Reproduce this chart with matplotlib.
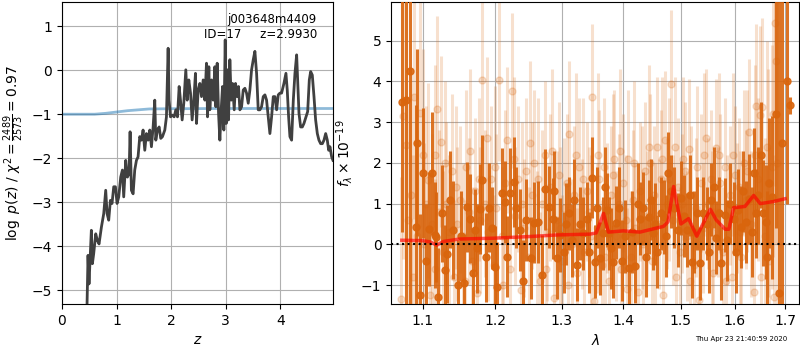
import numpy as np
import matplotlib
matplotlib.use("Agg")
import matplotlib.pyplot as plt

# ---- p(z) (painel esquerdo) ----
z_grid = [0.455, 0.459, 0.477, 0.495, 0.520, 0.538, 0.557, 0.581, 0.618, 0.648, 0.679, 0.722,
          0.765, 0.801, 0.826, 0.856, 0.887, 0.917, 0.948, 0.979, 1.009, 1.040, 1.076, 1.107,
          1.131, 1.168, 1.199, 1.229, 1.248, 1.272, 1.303, 1.333, 1.364, 1.394, 1.425, 1.456,
          1.486, 1.517, 1.547, 1.578, 1.609, 1.639, 1.670, 1.700, 1.719, 1.749, 1.780, 1.810,
          1.841, 1.884, 1.914, 1.945, 1.963, 1.988, 2.024, 2.055, 2.086, 2.116, 2.147, 2.171,
          2.202, 2.232, 2.269, 2.294, 2.324, 2.355, 2.385, 2.416, 2.446, 2.465, 2.495, 2.526,
          2.557, 2.587, 2.618, 2.648, 2.667, 2.691, 2.709, 2.740, 2.771, 2.801, 2.820, 2.844,
          2.869, 2.893, 2.917, 2.942, 2.966, 2.991, 3.009, 3.034, 3.052, 3.076, 3.101, 3.125,
          3.156, 3.180, 3.211, 3.235, 3.260, 3.291, 3.321, 3.352, 3.382, 3.413, 3.443, 3.474,
          3.505, 3.535, 3.566, 3.596, 3.627, 3.657, 3.688, 3.719, 3.749, 3.780, 3.810, 3.841,
          3.872, 3.902, 3.933, 3.963, 3.994, 4.024, 4.067, 4.104, 4.128, 4.153, 4.177, 4.208,
          4.239, 4.269, 4.300, 4.318, 4.343, 4.373, 4.404, 4.434, 4.471, 4.502, 4.532, 4.557,
          4.587, 4.618, 4.648, 4.679, 4.709, 4.740, 4.771, 4.801, 4.832, 4.862, 4.887, 4.911,
          4.942, 4.966]
log_pz = [-5.60, -5.32, -4.21, -4.86, -4.17, -3.64, -4.40, -4.17, -3.72, -3.87, -3.95, -3.57,
          -3.26, -2.73, -3.26, -3.41, -2.96, -3.03, -2.65, -2.65, -3.03, -2.88, -2.43, -2.27,
          -2.88, -2.05, -2.43, -2.35, -1.40, -2.73, -2.81, -2.27, -2.05, -1.97, -1.51, -1.59,
          -1.36, -1.82, -1.44, -1.59, -1.36, -1.74, -1.29, -0.68, -1.59, -1.36, -1.29, -1.55,
          -1.51, -1.36, -1.06, 0.50, -0.68, -1.06, -1.02, -1.06, -0.90, -1.06, -0.37, -0.68,
          -1.13, -0.75, 0.01, -0.68, -0.22, -0.52, -1.13, -0.68, -0.07, -1.21, -0.45, -0.30,
          -0.60, -0.22, -0.68, 0.16, -1.06, 0.08, -0.90, -0.22, -0.68, 0.08, -0.83, 0.16,
          -0.98, -1.59, -0.90, -0.37, -1.36, 0.69, -1.21, 0.01, -1.13, 0.24, -0.68, -0.30,
          -0.90, -0.30, -0.60, -0.37, -0.90, -0.83, -0.45, -0.41, -0.52, -0.75, -0.45, 0.01,
          0.24, 0.43, -0.07, -0.90, -0.90, -0.83, -0.60, -0.56, -0.68, -1.06, -1.44, -1.06,
          -0.60, -0.60, -0.90, -0.56, -0.52, -0.52, -0.30, -0.07, -0.45, -1.06, -1.51, -1.59,
          -0.68, -0.07, 0.35, -0.22, -0.98, -1.29, -1.29, -1.21, -1.06, -0.94, -0.22, -0.03,
          -0.11, -0.60, -1.13, -1.44, -1.59, -1.67, -1.67, -1.59, -1.44, -1.59, -1.82, -1.74,
          -1.97, -2.05]

# prior (linha azul)
z_prior = [0.0, 0.3, 0.6, 0.8, 1.0, 1.2, 1.4, 1.6, 2.0, 3.0, 4.0, 5.0]
log_prior = [-1.0, -1.0, -1.0, -0.98, -0.95, -0.92, -0.90, -0.88, -0.875, -0.87, -0.87, -0.87]

# ---- espectro (painel direito) ----
# pontos escuros
wl_dark = [1.073, 1.079, 1.083, 1.091, 1.093, 1.097, 1.101, 1.108, 1.112, 1.116, 1.118, 1.121,
           1.126, 1.130, 1.133, 1.141, 1.148, 1.156, 1.161, 1.165, 1.171, 1.174, 1.178, 1.182,
           1.187, 1.192, 1.200, 1.203, 1.210, 1.214, 1.222, 1.227, 1.236, 1.253, 1.258, 1.264,
           1.269, 1.275, 1.280, 1.286, 1.293, 1.297, 1.303, 1.311, 1.317, 1.324, 1.329, 1.334,
           1.340, 1.348, 1.353, 1.361, 1.366, 1.373, 1.376, 1.383, 1.387, 1.403, 1.410, 1.420,
           1.428, 1.434, 1.443, 1.450, 1.458, 1.464, 1.470, 1.477, 1.483, 1.494, 1.500, 1.511,
           1.520, 1.529, 1.535, 1.541, 1.547, 1.556, 1.565, 1.571, 1.574, 1.581, 1.598, 1.606,
           1.613, 1.622, 1.628, 1.638, 1.641, 1.651, 1.655, 1.661, 1.667, 1.673, 1.681, 1.687,
           1.693, 1.704, 1.710,
           1.105, 1.137, 1.152, 1.169, 1.196, 1.218, 1.231, 1.241, 1.246, 1.288, 1.307, 1.320,
           1.344, 1.357, 1.369, 1.379, 1.392, 1.398, 1.415, 1.424, 1.438, 1.447, 1.454, 1.474,
           1.488, 1.505, 1.516, 1.524, 1.551, 1.561, 1.586, 1.592, 1.602, 1.617, 1.633, 1.646,
           1.664]
f_dark = [3.50, 3.55, 4.26, 0.43, 2.50, -1.25, 1.76, 0.37, 1.74, 0.23, 0.18, -1.30,
          0.76, -0.63, -0.24, 0.35, -1.00, -0.95, 0.91, 0.63, 0.35, -0.10, 0.87, 1.58,
          -0.32, 0.90, -0.55, -1.04, 1.26, 1.04, 1.26, 1.53, 0.35, -0.34, 0.53, 0.55,
          -0.76, 1.35, 0.92, 0.63, -0.34, 0.23, -0.20, 0.76, 0.10, -0.50, 0.51, 0.27,
          0.63, 1.64, -0.43, -0.34, 0.27, 0.84, 0.27, -0.43, 0.53, 0.20, -0.58, -0.54,
          0.63, 0.88, 0.67, 0.27, -0.18, 0.76, 0.67, 1.76, 1.30, 0.35, 1.14, 0.35,
          -0.43, 0.76, -0.47, 0.76, 0.51, 1.10, 0.16, 0.76, -0.47, 0.72, 0.63, 0.84,
          0.43, 0.55, 1.11, 1.76, 0.76, 2.19, 0.76, 0.55, 1.50, 1.16, 3.20, -1.20,
          2.50, 4.00, 3.41,
          -0.40, 1.10, 0.20, -0.70, 0.40, -0.30, 0.90, -0.90, 0.60, 1.30, 0.50, 1.10,
          -0.20, 0.90, 1.40, -0.10, 0.90, -0.40, 0.30, 1.00, -0.30, 1.10, 0.50, 0.20,
          0.90, 0.70, 1.20, 0.30, -0.20, 1.40, 0.10, 1.00, -0.20, 1.30, 0.30, 1.20,
          -0.30]
err_dark = [3.2, 6.0, 6.0, 3.0, 2.3, 2.0, 1.6, 1.4, 1.5, 1.3, 1.1, 1.2,
            1.2, 1.1, 1.2, 1.2, 1.1, 1.2, 1.1, 1.1, 1.0, 1.1, 1.1, 1.1,
            1.1, 1.1, 1.0, 1.1, 1.1, 1.0, 1.1, 1.1, 1.0, 1.0, 1.0, 1.0,
            1.0, 1.0, 1.0, 1.0, 1.0, 0.9, 1.0, 0.9, 0.9, 0.9, 0.9, 0.9,
            0.9, 1.0, 0.9, 0.9, 0.9, 0.9, 0.9, 0.9, 0.9, 0.9, 0.9, 0.9,
            0.9, 0.9, 0.9, 0.9, 0.9, 0.9, 0.9, 1.0, 0.9, 0.9, 0.9, 0.9,
            0.9, 0.9, 0.9, 0.9, 0.9, 0.9, 0.9, 0.9, 0.9, 0.9, 0.9, 1.0,
            1.0, 1.0, 1.1, 1.1, 1.1, 1.3, 1.3, 1.4, 1.6, 2.0, 2.8, 7.5,
            8.0, 3.0, 0.2,
            1.4, 1.2, 1.1, 1.1, 1.0, 1.0, 1.0, 1.0, 1.0, 1.0, 1.0, 1.0,
            1.0, 1.0, 1.0, 1.0, 1.0, 1.0, 1.0, 1.0, 1.0, 1.0, 1.0, 1.0,
            1.0, 1.0, 1.0, 1.0, 1.0, 1.0, 1.0, 1.0, 1.0, 1.0, 1.1, 1.2,
            1.6]

# pontos claros
wl_light = [1.072, 1.075, 1.078, 1.081, 1.085, 1.089, 1.093, 1.097, 1.100, 1.104, 1.107, 1.110,
            1.113, 1.116, 1.119, 1.122, 1.125, 1.128, 1.132, 1.136, 1.140, 1.143, 1.147, 1.151,
            1.155, 1.159, 1.163, 1.167, 1.171, 1.175, 1.179, 1.182, 1.186, 1.190, 1.194, 1.198,
            1.202, 1.206, 1.210, 1.214, 1.218, 1.222, 1.225, 1.229, 1.233, 1.238, 1.242, 1.246,
            1.250, 1.254, 1.258, 1.262, 1.266, 1.270, 1.274, 1.278, 1.282, 1.288, 1.292, 1.296,
            1.300, 1.304, 1.308, 1.312, 1.316, 1.320, 1.324, 1.328, 1.332, 1.336, 1.340, 1.344,
            1.348, 1.352, 1.356, 1.360, 1.364, 1.368, 1.372, 1.376, 1.380, 1.384, 1.388, 1.392,
            1.396, 1.400, 1.404, 1.408, 1.412, 1.416, 1.420, 1.425, 1.429, 1.433, 1.437, 1.441,
            1.445, 1.449, 1.453, 1.457, 1.461, 1.465, 1.468, 1.472, 1.476, 1.482, 1.486, 1.490,
            1.494, 1.498, 1.502, 1.507, 1.511, 1.515, 1.519, 1.524, 1.528, 1.533, 1.537, 1.541,
            1.546, 1.550, 1.555, 1.559, 1.564, 1.568, 1.573, 1.577, 1.582, 1.586, 1.591, 1.595,
            1.600, 1.604, 1.609, 1.613, 1.618, 1.622, 1.627, 1.632, 1.637, 1.641, 1.646, 1.650,
            1.654, 1.659, 1.664, 1.668, 1.673, 1.677, 1.679, 1.681, 1.684,
            1.087, 1.102, 1.117, 1.130, 1.145, 1.157, 1.165, 1.177, 1.188, 1.200, 1.212, 1.227,
            1.240, 1.252, 1.264, 1.276, 1.285, 1.298, 1.310, 1.322, 1.334, 1.346, 1.358, 1.370,
            1.382, 1.394, 1.406, 1.418, 1.431, 1.443, 1.455, 1.466, 1.479, 1.492, 1.504, 1.517,
            1.530, 1.543, 1.557, 1.570, 1.584, 1.597, 1.611, 1.624, 1.639, 1.652, 1.666, 1.675]
f_light = [-1.35, 3.14, 2.43, 0.60, 1.20, 3.61, 0.20, 3.22, 2.20, 1.00, 1.57, -1.25,
           0.50, 2.20, 3.32, 0.80, 2.52, -0.20, 1.00, 0.30, 1.80, -0.80, 0.50, 1.10,
           0.20, 1.90, 0.80, -0.40, 1.30, -1.20, 0.60, 4.04, 1.00, 0.30, 1.60, -0.50,
           0.90, 4.04, 0.20, 1.50, 2.56, -0.60, 3.77, 0.70, 1.60, -1.13, 0.40, 1.80,
           -0.30, 1.20, 2.00, 0.10, -0.90, 1.00, 2.20, 0.30, 1.40, -1.33, 0.60, 1.70,
           -0.40, 0.90, 1.50, 2.70, 0.00, 1.20, -0.70, 1.90, 0.50, -0.20, 1.30, 0.80,
           3.62, -1.40, 0.40, 1.60, -0.50, 1.90, 0.90, -0.90, 1.20, 2.10, 0.20, 1.00,
           -0.60, 1.50, 0.60, 2.10, -0.30, 1.10, 0.40, -1.16, 1.30, 0.00, 1.80, 0.70,
           2.00, -0.40, 1.20, 2.40, 0.50, 1.60, -1.25, 2.56, 1.00, 3.95, 0.60, 2.40,
           1.40, -0.20, 1.00, 1.80, 0.20, 2.35, 1.20, -0.50, 0.90, -1.37, 1.50, 0.40,
           2.60, 1.00, 1.60, -0.70, 2.36, 0.80, 1.50, -0.20, 1.90, 0.60, 1.20, -0.80,
           1.70, 0.90, 1.40, -0.30, 2.00, 1.10, 2.75, 0.50, -1.16, 3.40, 1.60, 3.17,
           3.37, 0.20, 2.40, -0.40, 1.90, -1.30, 5.43, 4.50, 2.00,
           -0.80, 0.00, -0.60, 2.00, 1.40, -0.90, 2.30, 1.60, 2.60, 1.90, -1.00, 2.10,
           1.00, 2.50, 1.60, -0.60, 2.30, 0.40, -1.00, 2.20, 1.60, 0.20, 2.20, -0.30,
           1.70, 2.30, -1.10, 2.00, 0.90, 2.40, 0.00, 2.10, 1.60, -0.80, 2.10, -0.90,
           1.90, 2.20, 0.30, 2.20, -0.90, 2.20, 0.30, 1.80, 2.20, -0.80, 1.50, 3.20]
err_light = [3.0, 3.5, 3.5, 3.0, 3.0, 3.0, 2.6, 2.8, 2.6, 2.4, 2.4, 2.2,
             2.2, 2.2, 2.3, 2.0, 2.1, 2.0, 2.0, 1.9, 1.9, 1.9, 1.9, 1.8,
             1.8, 1.9, 1.8, 1.8, 1.8, 1.8, 1.8, 2.0, 1.8, 1.7, 1.8, 1.7,
             1.8, 2.0, 1.7, 1.8, 1.8, 1.7, 1.9, 1.7, 1.8, 1.7, 1.7, 1.8,
             1.7, 1.8, 1.8, 1.7, 1.7, 1.8, 1.8, 1.7, 1.8, 1.7, 1.7, 1.8,
             1.6, 1.7, 1.7, 1.8, 1.6, 1.7, 1.6, 1.7, 1.6, 1.6, 1.7, 1.6,
             1.8, 1.6, 1.6, 1.7, 1.6, 1.7, 1.6, 1.6, 1.7, 1.7, 1.6, 1.7,
             1.6, 1.7, 1.6, 1.7, 1.6, 1.7, 1.6, 1.6, 1.7, 1.6, 1.7, 1.6,
             1.7, 1.6, 1.7, 1.7, 1.6, 1.7, 1.6, 1.7, 1.6, 1.8, 1.6, 1.7,
             1.7, 1.6, 1.7, 1.7, 1.6, 1.7, 1.7, 1.6, 1.7, 1.6, 1.7, 1.6,
             1.7, 1.6, 1.7, 1.6, 1.7, 1.6, 1.7, 1.6, 1.7, 1.6, 1.7, 1.6,
             1.7, 1.6, 1.7, 1.6, 1.8, 1.7, 1.8, 1.8, 1.8, 2.0, 2.0, 2.2,
             2.2, 2.4, 2.6, 2.8, 3.0, 3.5, 4.0, 4.5, 5.0,
             3.0, 2.5, 2.2, 2.0, 2.0, 2.0, 2.0, 2.0, 2.0, 2.0, 2.0, 2.0,
             2.0, 2.0, 2.0, 2.0, 2.0, 2.0, 2.0, 2.0, 2.0, 2.0, 2.0, 2.0,
             2.0, 2.0, 2.0, 2.0, 2.0, 2.0, 2.0, 2.0, 2.0, 2.0, 2.0, 2.0,
             2.0, 2.0, 2.0, 2.0, 2.0, 2.0, 2.0, 2.0, 2.2, 2.4, 2.8, 3.5]

# modelo (linha vermelha)
wl_model = [1.073, 1.100, 1.110, 1.119, 1.128, 1.150, 1.198, 1.250, 1.293, 1.345, 1.355,
            1.367, 1.375, 1.400, 1.428, 1.469, 1.477, 1.487, 1.500, 1.514, 1.529, 1.554,
            1.565, 1.582, 1.589, 1.598, 1.620, 1.637, 1.650, 1.676, 1.700]
f_model = [0.10, 0.09, 0.06, -0.02, 0.07, 0.13, 0.15, 0.19, 0.23, 0.25, 0.28,
           0.76, 0.30, 0.33, 0.30, 0.44, 0.55, 1.42, 0.50, 0.63, 0.20, 0.86,
           0.60, 0.37, 0.37, 0.90, 0.93, 1.20, 1.00, 1.05, 1.12]

cor_laranja = "#d9650d"

fig = plt.figure(figsize=(8, 3.5), dpi=100)

# Painel esquerdo: log p(z)
ax1 = fig.add_axes([0.0775, 0.131, 0.339, 0.863])
ax1.plot(z_prior, log_prior, color="#1f77b4", alpha=0.5, lw=2, zorder=2)
ax1.plot(z_grid, log_pz, color="0.25", lw=2, zorder=3)
ax1.set_xlim(0, 4.97)
ax1.set_ylim(-5.32, 1.55)
ax1.set_xticks([0, 1, 2, 3, 4])
ax1.set_yticks([-5, -4, -3, -2, -1, 0, 1])
ax1.grid(True)
ax1.set_axisbelow(True)
ax1.set_xlabel(r"$z$")
ax1.set_ylabel(r"$\log\ p(z)$ / $\chi^2=\frac{2489}{2573}=0.97$")
ax1.text(0.94, 0.965, "j003648m4409\nID=17     z=2.9930", transform=ax1.transAxes,
         ha="right", va="top", fontsize=8.5)

# Painel direito: espectro
ax2 = fig.add_axes([0.489, 0.131, 0.51, 0.863])
ax2.errorbar(wl_light, f_light, yerr=err_light, marker="o", ms=5, linestyle="none",
             color=cor_laranja, alpha=0.2, elinewidth=2.2, zorder=2)
ax2.errorbar(wl_dark, f_dark, yerr=err_dark, marker="o", ms=5, linestyle="none",
             color=cor_laranja, alpha=0.9, elinewidth=2.2, zorder=3)
ax2.plot(wl_model, f_model, color="r", alpha=0.65, lw=2.5, zorder=4)
ax2.axhline(0, color="k", linestyle=":", lw=1.5, zorder=5)

ax2.set_xscale("log")
ax2.set_xlim(1.0594, 1.729)
ax2.set_ylim(-1.47, 5.95)
xt = [1.1, 1.2, 1.3, 1.4, 1.5, 1.6, 1.7]
ax2.set_xticks(xt)
ax2.set_xticks([], minor=True)
ax2.set_xticklabels([f"{v:.1f}" for v in xt])
ax2.set_yticks([-1, 0, 1, 2, 3, 4, 5])
ax2.grid(True)
ax2.set_axisbelow(True)
ax2.set_xlabel(r"$\lambda$")
ax2.set_ylabel(r"$f_\lambda\times10^{-19}$")

fig.text(0.984, 0.022, "Thu Apr 23 21:40:59 2020", ha="right", va="bottom", fontsize=5)

plt.savefig("out.png", dpi=100)
